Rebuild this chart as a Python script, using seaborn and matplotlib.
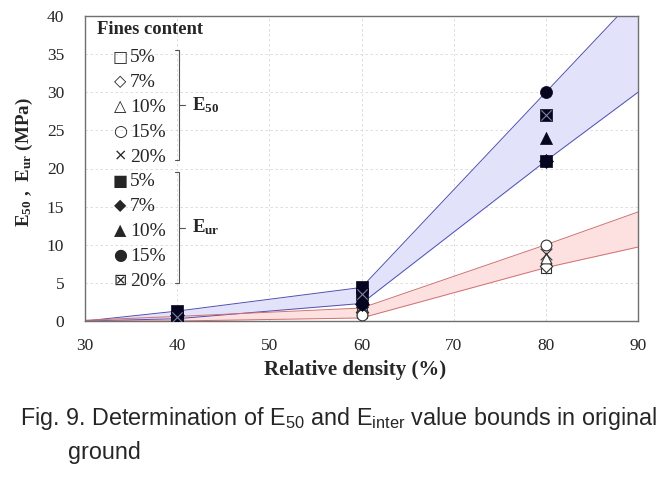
import numpy as np
import pandas as pd
import seaborn as sns
import matplotlib.pyplot as plt

# Relative density (%) of the tested points
density = [40, 60, 80]

# E50 (open markers), one list per fines content
e50_5 = [0.1, 1.0, 7.0]
e50_7 = [0.2, 1.2, 7.2]
e50_10 = [0.2, 1.5, 8.2]
e50_15 = [0.3, 0.8, 10.0]
e50_20 = [0.3, 1.8, 8.8]

# Eur (filled markers)
eur_5 = [1.3, 4.5, 21.0]
eur_7 = [0.8, 2.2, 21.0]
eur_10 = [0.5, 2.6, 24.0]
eur_15 = [0.6, 2.3, 30.0]
eur_20 = [0.5, 3.5, 27.0]

fines = ['5%', '7%', '10%', '15%', '20%']

# Bounds of the shaded bands
band_x = [30, 40, 60, 80, 90]
eur_upper = [0, 1.3, 4.4, 30.0, 42.8]
eur_lower = [0, 0.3, 2.3, 21.0, 30.0]
e50_upper = [0.1, 0.6, 1.7, 10.0, 14.3]
e50_lower = [0, 0, 0.4, 7.0, 9.7]

sns.set_style("white")
plt.rcParams['font.family'] = ['Liberation Serif', 'DejaVu Serif']
plt.rcParams['mathtext.fontset'] = 'custom'
plt.rcParams['mathtext.rm'] = 'Liberation Serif'
plt.rcParams['mathtext.bf'] = 'Liberation Serif:bold'

W, H = 671, 479
fig = plt.figure(figsize=(W / 100, H / 100), dpi=100)
ax = fig.add_axes([85 / W, 1 - 321 / H, (638 - 85) / W, (321 - 16) / H])

# bands
bands = pd.DataFrame({'x': band_x, 'eur_u': eur_upper, 'eur_l': eur_lower,
                      'e50_u': e50_upper, 'e50_l': e50_lower})
ax.fill_between(bands['x'], bands['eur_l'], bands['eur_u'], color='#e2e2fb', lw=0, zorder=1)
ax.fill_between(bands['x'], bands['e50_l'], bands['e50_u'], color='#fde1e1', lw=0, zorder=1)
for col, c in [('eur_u', '#5050b0'), ('eur_l', '#5050b0'), ('e50_u', '#d07070'), ('e50_l', '#d07070')]:
    sns.lineplot(data=bands, x='x', y=col, ax=ax, color=c, lw=0.7, zorder=2)

# points
e50_series = [e50_5, e50_7, e50_10, e50_15, e50_20]
eur_series = [eur_7, eur_5, eur_10, eur_20, eur_15]
eur_order = ['7%', '5%', '10%', '20%', '15%']
e50_marks = ['s', 'D', '^', 'o', 'x']
eur_marks = {'5%': 's', '7%': 'D', '10%': '^', '15%': 'o', '20%': 's'}

for vals, m in zip(e50_series, e50_marks):
    df = pd.DataFrame({'x': density, 'y': vals})
    if m == 'x':
        sns.scatterplot(data=df, x='x', y='y', ax=ax, marker='x', color='#333333',
                        s=70, linewidth=0.8, zorder=4)
    else:
        sns.scatterplot(data=df, x='x', y='y', ax=ax, marker=m, facecolor='white',
                        edgecolor='#333333', s=60 if m != 'D' else 40, linewidth=0.8, zorder=4)

for vals, name in zip(eur_series, eur_order):
    df = pd.DataFrame({'x': density, 'y': vals})
    m = eur_marks[name]
    sns.scatterplot(data=df, x='x', y='y', ax=ax, marker=m, color='#050520',
                    edgecolor='#050520', s=75 if m != 'D' else 50, linewidth=0.5, zorder=5)
    if name == '20%':
        sns.scatterplot(data=df, x='x', y='y', ax=ax, marker='x', color='#8080a0',
                        s=55, linewidth=0.8, zorder=6)

ax.set_xlim(30, 90)
ax.set_ylim(0, 40)
ax.set_xticks(np.arange(30, 91, 10))
ax.set_yticks(np.arange(0, 41, 5))
ax.grid(True, color='#d8d8d8', linestyle=(0, (3, 3)), linewidth=0.6)
ax.set_axisbelow(True)
for s in ax.spines.values():
    s.set_color('#707070')
    s.set_linewidth(1.0)
ax.tick_params(axis='both', length=0, labelsize=12.5)
ax.tick_params(axis='y', pad=15)
ax.tick_params(axis='x', pad=12)
ax.set_xlabel('')
ax.set_ylabel('')

fig.text(355 / W, 1 - 370 / H, 'Relative density (%)', fontsize=15, fontweight='bold',
         ha='center', va='center')
fig.text(24 / W, 1 - 162 / H, r'$\mathbf{E_{50}}$ ,  $\mathbf{E_{ur}}$ (MPa)', fontsize=13.7,
         fontweight='bold', ha='center', va='center', rotation=90)

# legend drawn as text, positions in pixels of the axes box
def axpt(px, py):
    return (px - 85) / 553, 1 - (py - 16) / 305

T = ax.transAxes
ax.text(*axpt(97, 30), 'Fines content', transform=T, fontsize=13.4,
        fontweight='bold', va='center', ha='left')
open_sym = ['□', '◇', '△', '○', '×']
fill_sym = ['■', '◆', '▲', '●', '⊠']
for i, lab in enumerate(fines * 2):
    py = 57 + 24.8 * i
    sym = open_sym[i] if i < 5 else fill_sym[i - 5]
    ax.text(*axpt(120, py), sym, transform=T, fontsize=11.5, ha='center', va='center',
            family='DejaVu Sans')
    ax.text(*axpt(130, py + 1), lab, transform=T, fontsize=14, ha='left', va='center')

for (y0, y1, name) in [(50, 160, r'$\mathbf{E_{50}}$'), (172, 283, r'$\mathbf{E_{ur}}$')]:
    xa, ya = axpt(175, y0)
    xb, yb = axpt(179, y1)
    ax.plot([xa, xb, xb, xa], [ya, ya, yb, yb], transform=T, color='#555555', lw=0.8)
    xm, ym = axpt(185, (y0 + y1) / 2)
    ax.plot([xb, xm], [ym, ym], transform=T, color='#555555', lw=0.8)
    ax.text(*axpt(192, (y0 + y1) / 2), name, transform=T, fontsize=13.5, ha='left', va='center')

# caption
cap_font = ['Liberation Sans', 'DejaVu Sans']
fig.text(20 / W, 1 - 418 / H, r'Fig. 9. Determination of E$\mathregular{_{50}}$ and E$\mathregular{_{inter}}$ value bounds in original',
         fontsize=16.8, family=cap_font, va='center', ha='left')
fig.text(68 / W, 1 - 453 / H, 'ground', fontsize=16.8, family=cap_font, va='center', ha='left')

fig.savefig('out.png', dpi=100)
